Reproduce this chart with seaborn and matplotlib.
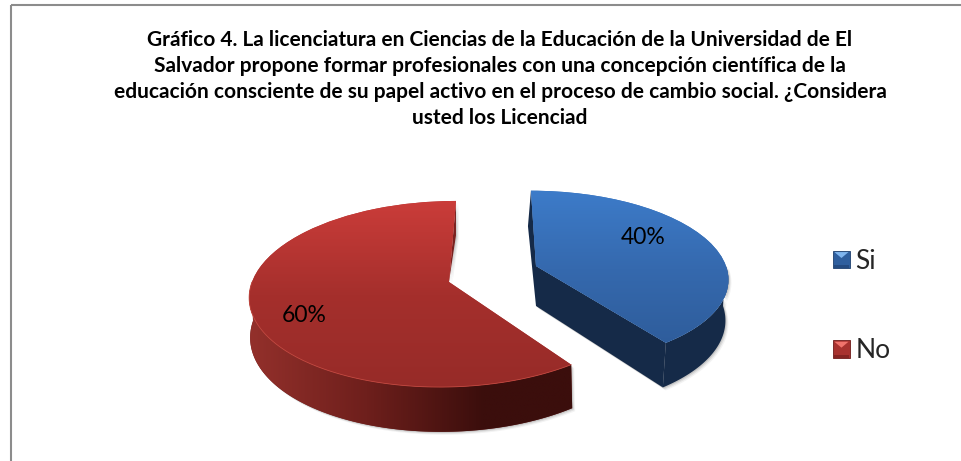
import numpy as np
import matplotlib
matplotlib.use('Agg')
import matplotlib.pyplot as plt
import seaborn as sns
from matplotlib.colors import LinearSegmentedColormap
from matplotlib.legend_handler import HandlerBase
from matplotlib.patches import Patch, Polygon
from matplotlib.transforms import Transform

# ---------------------------------------------------
# DATOS
# ---------------------------------------------------
CATEGORIAS = ['Si', 'No']
VALORES = [40, 60]
TITULO = ('Gráfico 4. La licenciatura en Ciencias de la Educación de la Universidad de El\n'
          'Salvador propone formar profesionales con una concepción científica de la\n'
          'educación consciente de su papel activo en el proceso de cambio social. ¿Considera\n'
          'usted los Licenciad')
COLORES = ['#3570BA', '#B03431']
# ---------------------------------------------------


class Tilt(Transform):
    # lleva el circulo unidad del pie a una elipse con perspectiva (en pixeles)
    input_dims = 2
    output_dims = 2

    def __init__(self, cx, cy, a, b, p, s):
        super().__init__()
        self.cx, self.cy, self.a, self.b, self.p, self.s = cx, cy, a, b, p, s

    def transform_non_affine(self, xy):
        xy = np.asarray(xy)
        u, v = xy[:, 0], xy[:, 1]
        w = 1 + self.p * v
        return np.column_stack((self.cx + self.a * (u + self.s * v) / w, self.cy - self.b * v / w))


class BevelHandler(HandlerBase):
    # cuadrito de la leyenda con bisel, como en Excel
    def __init__(self, light, dark):
        super().__init__()
        self.light, self.dark = light, dark

    def create_artists(self, legend, orig_handle, xdescent, ydescent, width, height, fontsize, trans):
        x0, y0, x1, y1 = -xdescent, -ydescent, width - xdescent, height - ydescent
        xm, ym = (x0 + x1) / 2, (y0 + y1) / 2
        base = Polygon([(x0, y0), (x1, y0), (x1, y1), (x0, y1)], facecolor=orig_handle.get_facecolor(),
                       edgecolor=self.dark, linewidth=0.6, transform=trans)
        top = Polygon([(x0 + 1, y1 - 1), (x1 - 1, y1 - 1), (xm, ym + 1)], facecolor=self.light, edgecolor='none', transform=trans)
        bottom = Polygon([(x0 + 1, y0 + 2), (x1 - 1, y0 + 2), (x1 - 1, y0), (x0 + 1, y0)], facecolor=self.dark,
                         edgecolor='none', alpha=0.6, transform=trans)
        return [base, top, bottom]


def gradient(ax, colors, extent, clip, zorder, vertical=True):
    cmap = LinearSegmentedColormap.from_list('g', colors)
    ramp = np.linspace(0, 1, 256)
    ramp = ramp.reshape(-1, 1) if vertical else ramp.reshape(1, -1)
    im = ax.imshow(ramp, cmap=cmap, extent=extent, origin='upper', aspect='auto', zorder=zorder, interpolation='bilinear')
    im.set_clip_path(clip)


def rim(tilt, th0, th1, depth, dx):
    # pared exterior entre dos angulos
    th = np.radians(np.linspace(th0, th1, 120))
    pts = tilt.transform_non_affine(np.column_stack((np.cos(th), np.sin(th))))
    low = lift(tilt, np.column_stack((np.cos(th), np.sin(th))), depth, dx)
    return np.vstack((pts, low[::-1]))


def lift(tilt, uv, depth, dx):
    pts = tilt.transform_non_affine(uv)
    w = 1 + tilt.p * uv[:, 1]
    return np.column_stack((pts[:, 0] + dx, pts[:, 1] + depth / w))


def draw_shadow(ax, poly, zorder):
    for off, alpha in ((3, 0.07), (2, 0.12), (1, 0.18)):
        ax.add_patch(Polygon(poly + off, facecolor='#555555', edgecolor='none', alpha=alpha, zorder=zorder))


def main():
    sns.set_theme(style='white')
    plt.rcParams['font.family'] = ['Lato', 'DejaVu Sans']

    fig, ax = plt.subplots(figsize=(9.61, 4.61), dpi=100)
    fig.subplots_adjust(left=0, right=1, top=1, bottom=0)

    wedges, _, autotexts = ax.pie(VALORES, colors=COLORES, startangle=90, counterclock=False,
                                  autopct='%.0f%%', wedgeprops={'linewidth': 0},
                                  textprops={'fontsize': 16.5, 'color': 'black', 'zorder': 12})
    blue, red = wedges

    red_tilt = Tilt(449, 282, 197, 91.5, 0.129, 0.04)
    blue_tilt = Tilt(536, 266, 190, 85, 0.129, -0.03)
    red_depth, red_dx = 39, 1
    blue_depth, blue_dx = 40, -3

    # --- rebanada roja ---
    red_wall = rim(red_tilt, -180, red.theta2, red_depth, red_dx)
    draw_shadow(ax, red_wall, 1)
    wall = Polygon(red_wall, facecolor='#6A1C1A', edgecolor='none', zorder=2)
    ax.add_patch(wall)
    gradient(ax, ['#93302B', '#6E1F1C', '#3B0E0C', '#3B0E0C'], (250, 600, 440, 290), wall, 3, vertical=False)

    uv_top = np.array([[0.0, 1.0]])
    uv_apex = np.array([[0.0, 0.0]])
    sliver = np.vstack((red_tilt.transform_non_affine(uv_top),
                        lift(red_tilt, uv_top, red_depth, 0),
                        red_tilt.transform_non_affine(uv_apex)))
    draw_shadow(ax, sliver, 1)
    ax.add_patch(Polygon(sliver, facecolor='#7A2220', edgecolor='none', zorder=2))

    red.set_transform(red_tilt + ax.transData)
    red.set_zorder(4)
    gradient(ax, ['#CC3D3A', '#A52F2C', '#962B28'], (245, 580, 392, 198), red, 5)
    th = np.radians(np.linspace(-180, red.theta2, 120))
    edge = red_tilt.transform_non_affine(np.column_stack((np.cos(th), np.sin(th))))
    ax.plot(edge[:, 0], edge[:, 1], color='#C0473F', lw=0.6, zorder=6)

    # --- rebanada azul ---
    blue_wall = rim(blue_tilt, blue.theta1, 0, blue_depth, blue_dx)
    uv_low = np.array([[np.cos(np.radians(blue.theta1)), np.sin(np.radians(blue.theta1))]])
    face = np.vstack((blue_tilt.transform_non_affine(uv_apex),
                      blue_tilt.transform_non_affine(uv_low),
                      lift(blue_tilt, uv_low, blue_depth, blue_dx),
                      lift(blue_tilt, uv_apex, blue_depth, 0)))
    side = np.vstack((blue_tilt.transform_non_affine(uv_top),
                      lift(blue_tilt, uv_top, blue_depth, blue_dx),
                      lift(blue_tilt, uv_apex, blue_depth, 0),
                      blue_tilt.transform_non_affine(uv_apex)))
    for poly in (blue_wall, face, side):
        draw_shadow(ax, poly, 6.5)
    for poly in (blue_wall, face, side):
        ax.add_patch(Polygon(poly, facecolor='#152A48', edgecolor='none', zorder=7))

    blue.set_transform(blue_tilt + ax.transData)
    blue.set_zorder(8)
    gradient(ax, ['#3D7CCA', '#3569AE', '#2E5C9A'], (525, 735, 350, 188), blue, 9)

    # --- etiquetas ---
    autotexts[0].set_position((643, 237))
    autotexts[1].set_position((304, 315))

    # --- leyenda ---
    handles = [Patch(facecolor=c) for c in ['#2F5F9E', '#A8322F']]
    handler = {handles[0]: BevelHandler('#7FB5EE', '#1E3F6E'), handles[1]: BevelHandler('#F0736C', '#6E1B1A')}
    leg = ax.legend(handles, CATEGORIAS, handler_map=handler, loc='center left', bbox_to_anchor=(833, 306),
                    bbox_transform=ax.transData, frameon=False, fontsize=19, labelspacing=2.45,
                    handlelength=0.64, handleheight=0.64, handletextpad=0.2, borderpad=0, borderaxespad=0)
    leg.set_zorder(12)

    # --- titulo ---
    ax.text(500, 79, TITULO, ha='center', va='center', fontsize=15, fontweight='bold', color='black',
            linespacing=1.37, zorder=12)

    # --- borde (solo arriba e izquierda quedan dentro del recorte) ---
    ax.plot([10.5, 961], [5.5, 5.5], color='#8C8C8C', lw=1.5, zorder=12, solid_capstyle='butt')
    ax.plot([10.5, 10.5], [5.5, 461], color='#8C8C8C', lw=1.5, zorder=12, solid_capstyle='butt')

    ax.set_aspect('auto')
    ax.set_xlim(0, 961)
    ax.set_ylim(461, 0)
    ax.axis('off')

    fig.savefig('out.png', dpi=100, facecolor='white')


if __name__ == "__main__":
    main()
